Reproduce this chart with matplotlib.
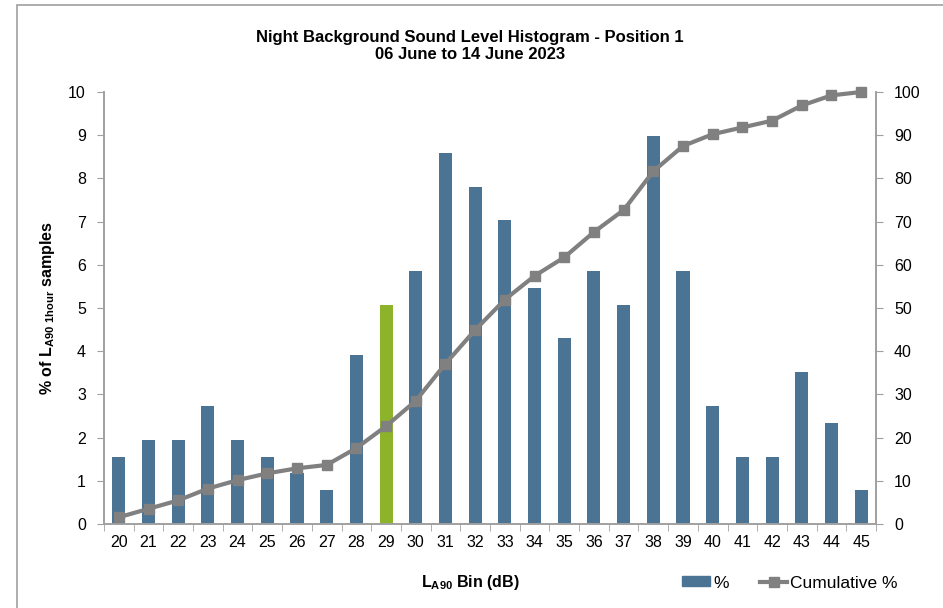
import numpy as np
import matplotlib
matplotlib.use("Agg")
import matplotlib.pyplot as plt
from matplotlib.patches import Rectangle
from matplotlib.lines import Line2D
from matplotlib.patches import Patch

plt.rcParams['font.family'] = ['Liberation Sans', 'DejaVu Sans']
plt.rcParams['mathtext.fontset'] = 'custom'
plt.rcParams['mathtext.rm'] = 'Liberation Sans:bold'
plt.rcParams['mathtext.default'] = 'rm'

bins = [20, 21, 22, 23, 24, 25, 26, 27, 28, 29, 30, 31, 32,
        33, 34, 35, 36, 37, 38, 39, 40, 41, 42, 43, 44, 45]
pct = [1.56, 1.95, 1.95, 2.73, 1.95, 1.56, 1.17, 0.78, 3.91, 5.08, 5.86, 8.59, 7.81,
       7.03, 5.47, 4.30, 5.86, 5.08, 8.98, 5.86, 2.73, 1.56, 1.56, 3.52, 2.34, 0.78]
cumulative = [1.56, 3.52, 5.47, 8.20, 10.16, 11.72, 12.89, 13.67, 17.58, 22.66, 28.52, 37.11, 44.92,
              51.95, 57.42, 61.72, 67.58, 72.66, 81.64, 87.50, 90.23, 91.80, 93.36, 96.88, 99.22, 100.0]
highlight = 29

bar_col = '#4a7394'
hi_col = '#8db32b'
line_col = '#808080'
spine_col = '#a0a0a0'

fig = plt.figure(figsize=(9.43, 6.08), dpi=100)
fig.patches.append(Rectangle((17/943, -0.1), 1.0, 1.0 + 0.1 - 5/608, transform=fig.transFigure,
                             fill=False, edgecolor='#a0a0a0', linewidth=1.2))

ax = fig.add_axes([104/943, 84/608, 772/943, 432/608])
x = np.arange(len(bins))
colors = [hi_col if b == highlight else bar_col for b in bins]
ax.bar(x, pct, width=0.44, color=colors, zorder=2)
ax.set_xlim(-0.5, len(bins) - 0.5)
ax.set_ylim(0, 10)
ax.set_yticks(range(0, 11))
ax.set_xticks(x)
ax.set_xticklabels([str(b) for b in bins])
ax.set_xticks(np.arange(-0.5, len(bins), 1), minor=True)
ax.tick_params(axis='x', which='major', length=0, pad=8, labelsize=11.5)
ax.tick_params(axis='x', which='minor', length=5, color=spine_col, direction='out')
ax.tick_params(axis='y', length=5, color=spine_col, labelsize=11.5, pad=8)
ax.spines['top'].set_visible(False)
for s in ['left', 'bottom', 'right']:
    ax.spines[s].set_color(spine_col)
    ax.spines[s].set_linewidth(1.2)

ax2 = ax.twinx()
ax2.plot(x, cumulative, color=line_col, linewidth=3, marker='s', markersize=7, zorder=3,
         clip_on=False)
ax2.set_ylim(0, 100)
ax2.set_yticks(range(0, 101, 10))
ax2.tick_params(axis='y', length=5, color=spine_col, labelsize=11.5, pad=8)
ax2.spines['top'].set_visible(False)
for s in ['left', 'bottom', 'right']:
    ax2.spines[s].set_color(spine_col)
    ax2.spines[s].set_linewidth(1.2)

fig.text(470/943, 1 - 46/608, 'Night Background Sound Level Histogram - Position 1\n06 June to 14 June 2023',
         ha='center', va='center', fontsize=12, fontweight='bold', linespacing=1.1)
ax.set_ylabel(r'% of L$_{A90\ 1hour}$ samples', fontsize=11.5, fontweight='bold', labelpad=8)
fig.text(470/943, 1 - 583/608, r'L$_{A90}$ Bin (dB)', ha='center', va='center',
         fontsize=11.5, fontweight='bold')

handles = [Patch(color=bar_col, label='%'),
           Line2D([0], [0], color=line_col, linewidth=3, marker='s', markersize=7, label='Cumulative %')]
fig.legend(handles=handles, loc='center', bbox_to_anchor=(790/943, 1 - 583/608), ncol=2,
           frameon=False, fontsize=12.5, handlelength=1.6, handleheight=0.5, columnspacing=1.8,
           handletextpad=0.15)

fig.savefig('out.png', dpi=100)
